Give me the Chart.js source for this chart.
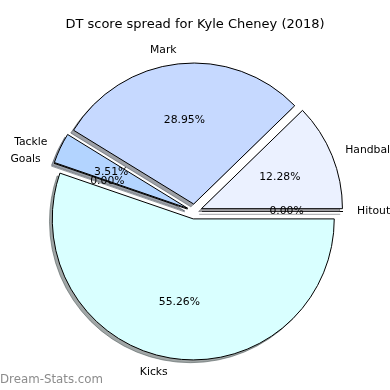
<!DOCTYPE html>
<html>
<head>
<meta charset="utf-8">
<script src="https://cdn.jsdelivr.net/npm/chart.js@4/dist/chart.umd.min.js"></script>
<style>
  html, body { margin: 0; padding: 0; background: #fff; }
  #wrap { width: 390px; height: 390px; }
</style>
</head>
<body>
<div id="wrap"><canvas id="pieChart" width="390" height="390"></canvas></div>
<script>
// slices, clockwise from 3 o'clock (matplotlib order reversed)
const categorias = ['Kicks', 'Goals', 'Tackle', 'Mark', 'Handball', 'Hitout'];
const puntos = [63, 0, 4, 33, 14, 0];
const colores = ['#d9ffff', '#c9e0ff', '#b3d4ff', '#c6d9ff', '#ebf1ff', '#e0e8ff'];
const titulo = 'DT score spread for Kyle Cheney (2018)';
const marcaAgua = 'Dream-Stats.com';

const explode = 7.5;
const sombraX = -2.8, sombraY = 2.8;

function colorSombra(hex) {
    const r = parseInt(hex.slice(1, 3), 16) * 0.3;
    const g = parseInt(hex.slice(3, 5), 16) * 0.3;
    const b = parseInt(hex.slice(5, 7), 16) * 0.3;
    return 'rgba(' + Math.round(r) + ',' + Math.round(g) + ',' + Math.round(b) + ',0.5)';
}

const total = puntos.reduce((a, b) => a + b, 0);

// draws wedges matplotlib style: exploded, each with a drop shadow
const piePlugin = {
    id: 'mplPie',
    beforeDatasetDraw(chart, args) {
        const ctx = chart.ctx;
        const arcs = args.meta.data;
        for (let i = arcs.length - 1; i >= 0; i--) {
            const arc = arcs[i];
            const p = arc.getProps(['x', 'y', 'startAngle', 'endAngle', 'outerRadius']);
            const mid = (p.startAngle + p.endAngle) / 2;
            const dx = Math.cos(mid) * explode, dy = Math.sin(mid) * explode;
            const vacio = p.endAngle - p.startAngle <= 0;

            // sombra
            ctx.save();
            ctx.translate(dx + sombraX, dy + sombraY);
            ctx.beginPath();
            ctx.moveTo(p.x, p.y);
            if (vacio) {
                ctx.lineTo(p.x + Math.cos(p.startAngle) * p.outerRadius, p.y + Math.sin(p.startAngle) * p.outerRadius);
            } else {
                ctx.arc(p.x, p.y, p.outerRadius, p.startAngle, p.endAngle);
                ctx.closePath();
                ctx.fillStyle = colorSombra(colores[i]);
                ctx.fill();
            }
            ctx.strokeStyle = colorSombra(colores[i]);
            ctx.lineWidth = 1;
            ctx.stroke();
            ctx.restore();

            // cuña
            ctx.save();
            ctx.translate(dx, dy);
            if (vacio) {
                ctx.beginPath();
                ctx.moveTo(p.x, p.y);
                ctx.lineTo(p.x + Math.cos(p.startAngle) * p.outerRadius, p.y + Math.sin(p.startAngle) * p.outerRadius);
                ctx.strokeStyle = '#000';
                ctx.lineWidth = 1;
                ctx.stroke();
            } else {
                arc.draw(ctx);
            }
            ctx.restore();
        }
        return false;
    },
    afterDatasetsDraw(chart) {
        const ctx = chart.ctx;
        const arcs = chart.getDatasetMeta(0).data;
        ctx.save();
        ctx.font = '10.8px "DejaVu Sans"';
        ctx.fillStyle = '#000';
        ctx.textBaseline = 'middle';
        arcs.forEach((arc, i) => {
            const p = arc.getProps(['x', 'y', 'startAngle', 'endAngle', 'outerRadius']);
            const mid = (p.startAngle + p.endAngle) / 2;
            const cx = p.x + Math.cos(mid) * explode;
            const cy = p.y + Math.sin(mid) * explode;
            const r = p.outerRadius;
            ctx.textAlign = Math.cos(mid) > 0 ? 'left' : 'right';
            ctx.fillText(categorias[i], cx + Math.cos(mid) * r * 1.1, cy + Math.sin(mid) * r * 1.1);
            ctx.textAlign = 'center';
            const pct = (puntos[i] / total * 100).toFixed(2) + '%';
            ctx.fillText(pct, cx + Math.cos(mid) * r * 0.6, cy + Math.sin(mid) * r * 0.6);
        });
        ctx.restore();
    },
    afterDraw(chart) {
        const ctx = chart.ctx;
        ctx.save();
        ctx.fillStyle = '#000';
        ctx.font = '13px "DejaVu Sans"';
        ctx.textAlign = 'center';
        ctx.textBaseline = 'middle';
        ctx.fillText(titulo, 195, 25);
        ctx.font = '11.8px "DejaVu Sans"';
        ctx.fillStyle = '#8c8c8c';
        ctx.textAlign = 'left';
        ctx.fillText(marcaAgua, 0, 380);
        ctx.restore();
    }
};

const ctx = document.getElementById('pieChart').getContext('2d');
new Chart(ctx, {
    type: 'pie',
    data: {
        labels: categorias,
        datasets: [{
            data: puntos,
            backgroundColor: colores,
            borderColor: '#000',
            borderWidth: 1,
            offset: 0,
            hoverOffset: 0
        }]
    },
    options: {
        responsive: false,
        devicePixelRatio: 1,
        animation: false,
        rotation: 90,
        radius: 141,
        layout: { padding: { top: 33, bottom: 0, left: 0, right: 1 } },
        events: [],
        plugins: {
            legend: { display: false },
            tooltip: { enabled: false },
            title: { display: false }
        }
    },
    plugins: [piePlugin]
});
</script>
</body>
</html>
